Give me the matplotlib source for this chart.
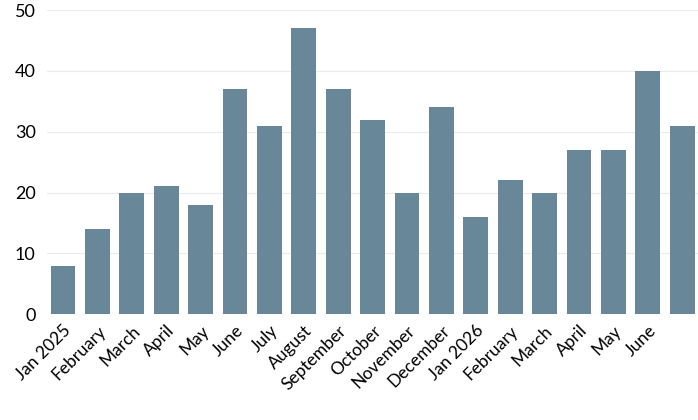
import matplotlib.pyplot as plt

labels = ["Jan 2025", "February", "March", "April", "May", "June", "July",
          "August", "September", "October", "November", "December",
          "Jan 2026", "February", "March", "April", "May", "June", ""]
values = [8, 14, 20, 21, 18, 37, 31, 47, 37, 32, 20, 34, 16, 22, 20, 27, 27, 40, 31]

plt.rcParams["font.family"] = ["Lato", "DejaVu Sans"]

fig = plt.figure(figsize=(6.98, 4.2), dpi=100)
ax = fig.add_axes([0.067, 0.252, 0.933, 0.724])
x = range(len(values))
ax.bar(x, values, width=0.72, color="#688799", zorder=2)
ax.set_xlim(-0.47, 18.46)
ax.set_ylim(0, 50)
ax.set_yticks(range(0, 51, 10))
ax.grid(axis="y", color="#ebebeb", linewidth=0.8, zorder=0)
ax.set_xticks(list(x))
ax.set_xticklabels(labels, rotation=45, ha="right", rotation_mode="anchor", fontsize=12.5)
ax.tick_params(axis="y", labelsize=13, length=0, pad=8)
ax.tick_params(axis="x", length=0, pad=6)
for s in ax.spines.values():
    s.set_visible(False)
fig.savefig("out.png", dpi=100)
